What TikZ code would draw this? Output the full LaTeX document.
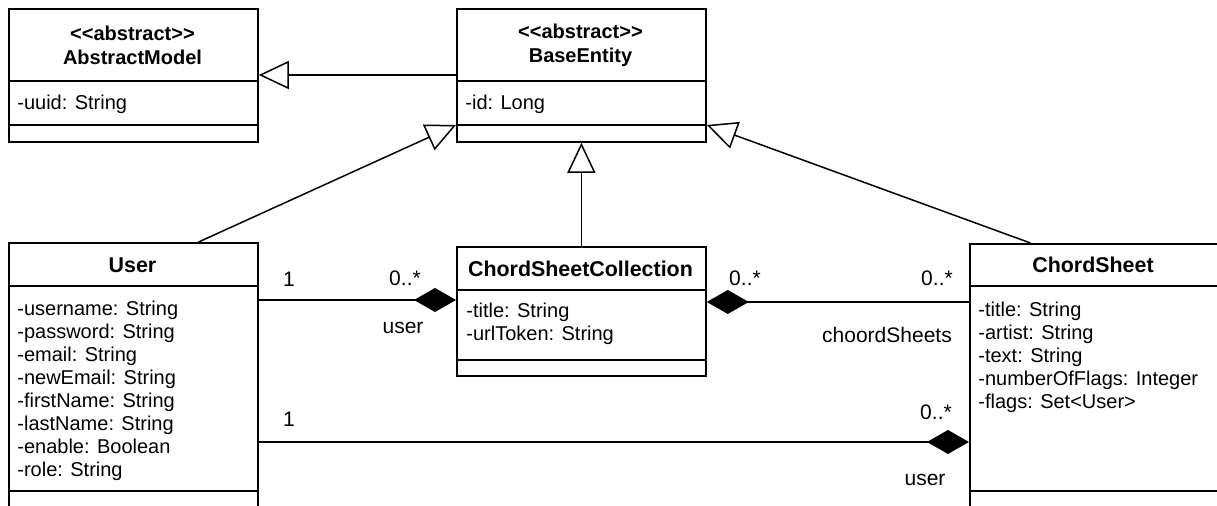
\documentclass[tikz,border=0pt]{standalone}
\usepackage{fontspec}
\setmainfont{Liberation Sans}
\usetikzlibrary{arrows.meta,calc}
\newcommand{\stereo}[1]{<\kern0pt<#1>\kern0pt>}
\begin{document}
\begin{tikzpicture}[x=0.5pt,y=-0.5pt,
  cls/.style={draw, line width=0.9pt, fill=white, inner sep=0pt, anchor=north west, minimum width=124.5pt},
  div/.style={line width=0.9pt},
  attr/.style={inner sep=0pt, anchor=west, align=left, font=\fontsize{10}{11.5}\selectfont},
  hdr/.style={inner sep=0pt, font=\fontsize{10.7}{12}\selectfont\bfseries},
  ahdr/.style={inner sep=0pt, align=center, font=\fontsize{10}{12}\selectfont\bfseries},
  lbl/.style={inner sep=0pt, font=\fontsize{10.5}{12}\selectfont},
  link/.style={line width=0.75pt},
  gen/.style={link, -{Triangle[open, length=15pt, width=14pt, fill=white]}},
  comp/.style={link, -{Diamond[length=21pt, width=12pt]}}
]
\useasboundingbox (0,0) rectangle (1217,506);
\clip (0,0) rectangle (1217,506);

% class boxes
\node[cls, minimum height=66.5pt] (am) at (8,8) {};
\node[cls, minimum height=66.5pt] (be) at (456,8) {};
\node[cls, minimum height=139pt] (user) at (8,242) {};
\node[cls, minimum height=64.5pt] (csc) at (456,246) {};
\node[cls, minimum height=138.5pt] (cs) at (969,243) {};

% compartments
\draw[div] (am.west |- 0,81) -- (am.east |- 0,81);
\draw[div] (am.west |- 0,125) -- (am.east |- 0,125);
\draw[div] (be.west |- 0,81) -- (be.east |- 0,81);
\draw[div] (be.west |- 0,125) -- (be.east |- 0,125);
\draw[div] (user.west |- 0,286) -- (user.east |- 0,286);
\draw[div] (user.west |- 0,491) -- (user.east |- 0,491);
\draw[div] (csc.west |- 0,290) -- (csc.east |- 0,290);
\draw[div] (csc.west |- 0,360) -- (csc.east |- 0,360);
\draw[div] (cs.west |- 0,286) -- (cs.east |- 0,286);
\draw[div] (cs.west |- 0,491) -- (cs.east |- 0,491);

% headers
\node[ahdr] (amh) at (132.5,45) {\stereo{abstract}\\AbstractModel};
\node[ahdr] (beh) at (580.5,45) {\stereo{abstract}\\BaseEntity};
\node[hdr] (userh) at (132.5,265) {User};
\node[hdr] (csch) at (580.5,269) {ChordSheetCollection};
\node[hdr] (csh) at (1093,265) {ChordSheet};

% attributes
\node[attr] (ama) at (17,104) {-uuid: String};
\node[attr] (bea) at (465,104) {-id: Long};
\node[attr] (usera) at (17,391) {-username: String\\-password: String\\-email: String\\-newEmail: String\\-firstName: String\\-lastName: String\\-enable: Boolean\\-role: String};
\node[attr] (csca) at (466,324) {-title: String\\-urlToken: String};
\node[attr] (csa) at (978,357) {-title: String\\-artist: String\\-text: String\\-numberOfFlags: Integer\\-flags: Set<User>};

% generalizations
\draw[gen] (be.west |- 0,75) -- (am.east |- 0,75);
\draw[gen] ($(user.north west)!0.76!(user.north east)$) -- (be.west |- 0,125);
\draw[gen] (csc.north) -- (be.south);
\draw[gen] ($(cs.north west)!0.245!(cs.north east)$) -- (be.east |- 0,125);

% compositions
\draw[comp] (user.east |- 0,300) -- (csc.west |- 0,300);
\draw[comp] (cs.west |- 0,302) -- (csc.east |- 0,302);
\draw[comp] (user.east |- 0,442) -- (cs.west |- 0,442);

% multiplicities and roles
\node[lbl] (m1) at (289,279) {1};
\node[lbl] (m2) at (405,278) {0..*};
\node[lbl] (r1) at (403,328) {user};
\node[lbl] (m3) at (745,278) {0..*};
\node[lbl] (m4) at (937,278) {0..*};
\node[lbl] (r2) at (887,335) {choordSheets};
\node[lbl] (m5) at (289,419) {1};
\node[lbl] (m6) at (936,412) {0..*};
\node[lbl] (r3) at (925,480) {user};
\end{tikzpicture}
\end{document}
